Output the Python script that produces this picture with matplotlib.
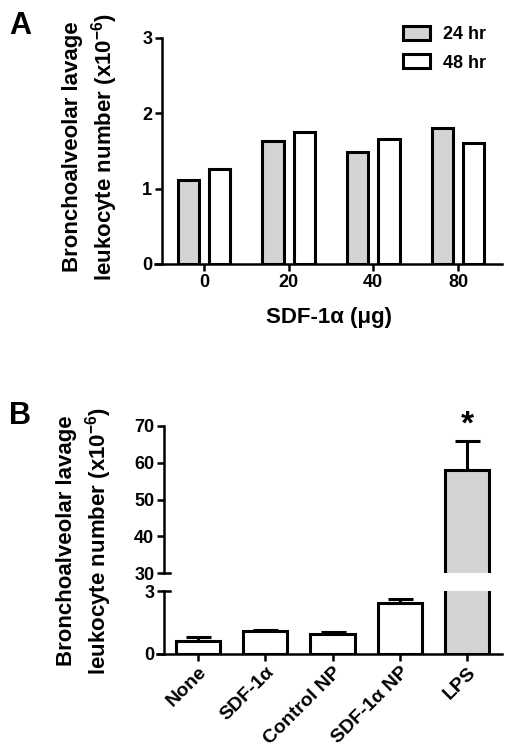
import matplotlib
matplotlib.use("Agg")
import matplotlib.pyplot as plt
import matplotlib.transforms as mtransforms
import numpy as np

plt.rcParams['font.family'] = ['Liberation Sans', 'DejaVu Sans']
plt.rcParams['font.weight'] = 'bold'
plt.rcParams['mathtext.default'] = 'regular'

# panel A data
doses = ["0", "20", "40", "80"]
bal_24hr = [1.12, 1.63, 1.49, 1.81]
bal_48hr = [1.26, 1.75, 1.66, 1.61]

# panel B data
groups = ["None", "SDF-1α", "Control NP", "SDF-1α NP", "LPS"]
bal_means = [0.62, 1.10, 0.95, 2.44, 58.0]
bal_err = [0.19, 0.05, 0.09, 0.19, 8.0]
bar_fill = ["white", "white", "white", "white", "#d3d3d3"]

W, H = 512, 756
fig = plt.figure(figsize=(W / 100, H / 100), dpi=100)

def px_axes(x0, y0, x1, y1):
    # pixel box -> figure fraction
    return fig.add_axes([x0 / W, 1 - y1 / H, (x1 - x0) / W, (y1 - y0) / H])

LW = 2.2
ylab = "Bronchoalveolar lavage\nleukocyte number (x10$^{-6}$)"

def style(ax):
    for s in ("top", "right"):
        ax.spines[s].set_visible(False)
    for s in ("left", "bottom"):
        ax.spines[s].set_linewidth(1.8)
    ax.tick_params(width=1.8, length=5, labelsize=13, pad=2)

# ---------------- panel A ----------------
axA = px_axes(155, 38, 502, 264)
style(axA)
xa = np.arange(len(doses))
axA.bar(xa - 0.185, bal_24hr, 0.25, color="#d3d3d3", edgecolor="black",
        linewidth=LW, label="24 hr", zorder=3)
axA.bar(xa + 0.185, bal_48hr, 0.25, color="white", edgecolor="black",
        linewidth=LW, label="48 hr", zorder=3)
axA.set_xlim(-0.578, 3.52)
axA.set_ylim(0, 3)
axA.spines["left"].set_position(("data", -0.496))
axA.set_xticks(xa)
axA.set_xticklabels(doses)
axA.set_yticks([0, 1, 2, 3])
axA.set_xlabel("SDF-1α (μg)", fontsize=16, fontweight="bold", labelpad=12)
leg = axA.legend(loc="upper right", bbox_to_anchor=(1.0, 1.125), frameon=False,
                 fontsize=13, handlelength=1.5, handleheight=0.8,
                 handletextpad=0.7, labelspacing=0.62)
for p in leg.get_patches():
    p.set_linewidth(2.2)
fig.text(91 / W, 1 - 147 / H, ylab, rotation=90, ha="center", va="center",
         fontsize=16, fontweight="bold", linespacing=1.3)
fig.text(9 / W, 1 - 34 / H, "A", fontsize=22, fontweight="bold")

# ---------------- panel B ----------------
xb = np.arange(len(groups))
xl = (-0.61, 4.52)
spine_x = -0.506

axT = px_axes(157, 426, 502, 573)
axB = px_axes(157, 591, 502, 654)
for ax in (axT, axB):
    style(ax)
    ax.bar(xb, bal_means, 0.66, color=bar_fill, edgecolor="black",
           linewidth=LW, zorder=3)
    ax.errorbar(xb, bal_means, yerr=[np.zeros(len(xb)), bal_err], fmt="none",
                ecolor="black", elinewidth=2.2, capsize=9, capthick=2.2,
                zorder=2)
    ax.set_xlim(*xl)
    ax.spines["left"].set_position(("data", spine_x))

axT.set_ylim(30, 70)
axT.set_yticks([30, 40, 50, 60, 70])
axT.spines["bottom"].set_visible(False)
axT.tick_params(axis="x", bottom=False, labelbottom=False)

axB.set_ylim(0, 3)
axB.set_yticks([0, 3])
axB.set_xticks(xb)
axB.set_xticklabels(groups, rotation=45, ha="right", rotation_mode="anchor",
                    fontsize=14)

# break marks crossing the y axis
for ax, yv in ((axT, 30), (axB, 3)):
    tr = mtransforms.blended_transform_factory(ax.transData, ax.transData)
    ax.plot([spine_x, spine_x + 0.09], [yv, yv], color="black", lw=1.8,
            transform=tr, clip_on=False, zorder=5)

axT.text(4, 66.0, "*", ha="center", va="bottom", fontsize=24,
         fontweight="bold")

fig.text(85 / W, 1 - 541 / H, ylab, rotation=90, ha="center", va="center",
         fontsize=16, fontweight="bold", linespacing=1.3)
fig.text(9 / W, 1 - 424 / H, "B", fontsize=22, fontweight="bold")

fig.savefig("out.png", dpi=100)
